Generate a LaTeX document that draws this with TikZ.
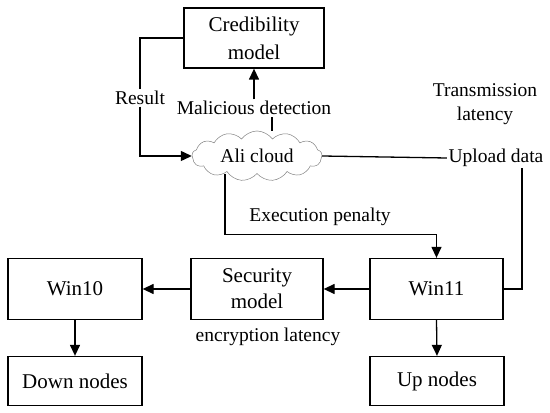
\documentclass[tikz,border=0pt]{standalone}
\usepackage{fontspec}
\setmainfont{Liberation Serif}
\usetikzlibrary{positioning,shapes.symbols,arrows.meta}

\begin{document}
\begin{tikzpicture}[x=1pt,y=1pt,line width=1.3pt,>={Triangle[length=11pt,width=10pt]},
    box/.style={draw,line width=1.3pt,minimum width=134pt,minimum height=61pt,align=center,
        font=\fontsize{21}{26}\selectfont},
    lbl/.style={inner sep=1pt,align=center,font=\fontsize{19.5}{24}\selectfont}]
        \useasboundingbox (0,0) rectangle (550,413);
        % boxes
        \node[box,minimum width=140pt,minimum height=60pt,font=\fontsize{21}{28}\selectfont] (cred) at (254,375) {Credibility\\model};
        \node[cloud,draw=gray,line width=0.5pt,cloud puffs=13,cloud puff arc=110,aspect=2.8,
            minimum width=130pt,minimum height=47pt,inner sep=1pt,font=\fontsize{19.5}{24}\selectfont] (cloud) at (257,257) {Ali cloud};
        \node[box] (win10) at (75,124) {Win10};
        \node[box,minimum height=49pt] (down) at (75,32) {Down nodes};
        \node[box,minimum width=132pt] (secu) at (257,124) {Security\\model};
        \node[box,minimum width=133pt] (win11) at (436.5,124) {Win11};
        \node[box,minimum height=49pt] (up) at (437,32) {Up nodes};
        % labels
        \node[lbl,fill=white] (result) at (140,315) {Result};
        \node[lbl] (mal) at (254,305) {Malicious detection};
        \node[lbl] (trans) at (485,309) {Transmission\\latency};
        \node[lbl] (upload) at (496,255) {Upload data};
        \node[lbl] (exec) at (320,196) {Execution penalty};
        \node[lbl] (enc) at (268,76) {encryption latency};
        % connectors
        \draw (cred.west) -| (result);
        \draw[->] (result) |- (cloud.west);
        \draw ([xshift=15pt]cloud.north) -- ([xshift=15pt]cloud.north |- mal.south);
        \draw[->] (mal.north) -- (cred.south);
        \draw (cloud.east) -- (upload.west);
        \draw ([xshift=26pt]upload.south) |- (win11.east);
        \draw[->] ([xshift=-32pt]cloud.south) |- ([yshift=23pt]win11.north) -- (win11.north);
        \draw[->] (win11.west) -- (secu.east);
        \draw[->] (secu.west) -- (win10.east);
        \draw[->] (win10.south) -- (down.north);
        \draw[->] (win11.south) -- (up.north);
    \end{tikzpicture}
\end{document}
